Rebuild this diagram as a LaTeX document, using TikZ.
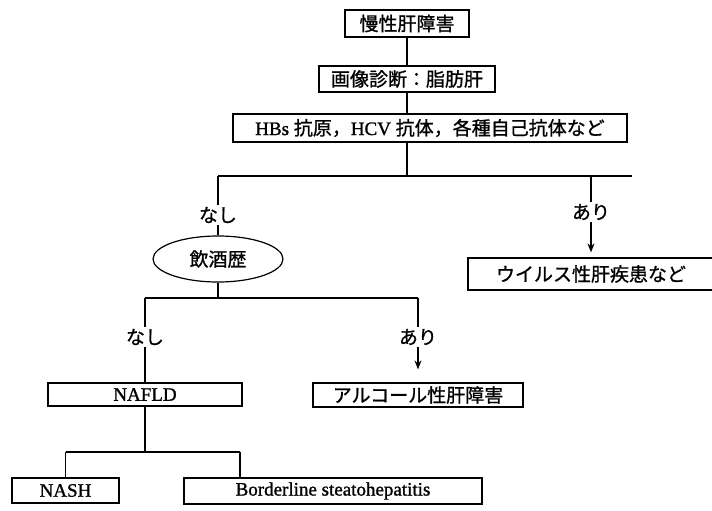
\documentclass[tikz,border=0pt]{standalone}
\usepackage{fontspec}
\setmainfont{Liberation Serif}
\newfontfamily\jp[FakeBold=1]{Noto Sans CJK JP}
\newfontfamily\lt[FakeBold=1.2]{Liberation Serif}
\usetikzlibrary{arrows.meta,shapes.geometric}
\newcommand{\J}[1]{{\jp #1}}
\newcommand{\Lt}[1]{{\lt #1}}
\begin{document}
\begin{tikzpicture}[x=1pt,y=-1pt,
  line width=1.2pt,
  every node/.style={font=\fontsize{19}{22}\selectfont, inner sep=0pt},
  box/.style={draw, rectangle},
  oval/.style={draw, ellipse},
  lab/.style={fill=white, inner ysep=2pt, inner xsep=1pt},
  arr/.style={-{Stealth[length=9pt,width=7pt]}}]
\useasboundingbox (0,0) rectangle (712,511);

% boxes
\node[box, minimum width=124pt, minimum height=27pt] (n1) at (407,23.5) {\J{慢性肝障害}};
\node[box, minimum width=176pt, minimum height=26pt] (n2) at (407,79) {\J{画像診断：脂肪肝}};
\node[box, minimum width=394pt, minimum height=28pt] (n3) at (430,128) {\Lt{HBs} \J{抗原，}\Lt{HCV} \J{抗体，各種自己抗体など}};
\node[oval, minimum width=130pt, minimum height=46pt] (n4) at (218,259) {\J{飲酒歴}};
\node[box, minimum width=246pt, minimum height=32pt] (n5) at (591,274) {\J{ウイルス性肝疾患など}};
\node[box, minimum width=210pt, minimum height=24pt] (n6) at (418,395) {\J{アルコール性肝障害}};
\node[box, minimum width=194pt, minimum height=23pt] (n7) at (145,394.5) {\Lt{NAFLD}};
\node[box, minimum width=107pt, minimum height=25pt] (n8) at (65.5,490.5) {\Lt{NASH}};
\node[box, minimum width=298pt, minimum height=26pt] (n9) at (333,491) {\Lt{Borderline steatohepatitis}};

% junction coordinates
\coordinate (j1) at (407,176);
\coordinate (h1l) at (218,176);
\coordinate (h1r) at (632,176);
\coordinate (h1a) at (591,176);
\coordinate (h2l) at (145,298);
\coordinate (h2r) at (418,298);
\coordinate (h3) at (145,452);
\coordinate (h3l) at (65.5,452);
\coordinate (h3r) at (240,452);

% connectors
\draw (n1.south) -- (n2.north);
\draw (n2.south) -- (n2.south |- n3.north);
\draw (j1 |- n3.south) -- (j1);
\draw (h1l) -- (h1r);
\draw (h1l) -- (n4.north);
\draw[arr, shorten >=5pt] (h1a) -- (n5.north);
\draw (n4.south) -- (n4.south |- h2l);
\draw (h2l) -- (h2r);
\draw (h2l) -- (n7.north);
\draw[arr, shorten >=13pt] (h2r) -- (n6.north);
\draw (n7.south) -- (h3);
\draw (h3l) -- (h3r);
\draw (h3l) -- (n8.north);
\draw (h3r) -- (h3r |- n9.north);

% labels
\node[lab] (l1) at (218,215) {\J{なし}};
\node[lab] (l2) at (591,212) {\J{あり}};
\node[lab] (l3) at (145,337) {\J{なし}};
\node[lab] (l4) at (418,337) {\J{あり}};
\end{tikzpicture}
\end{document}
